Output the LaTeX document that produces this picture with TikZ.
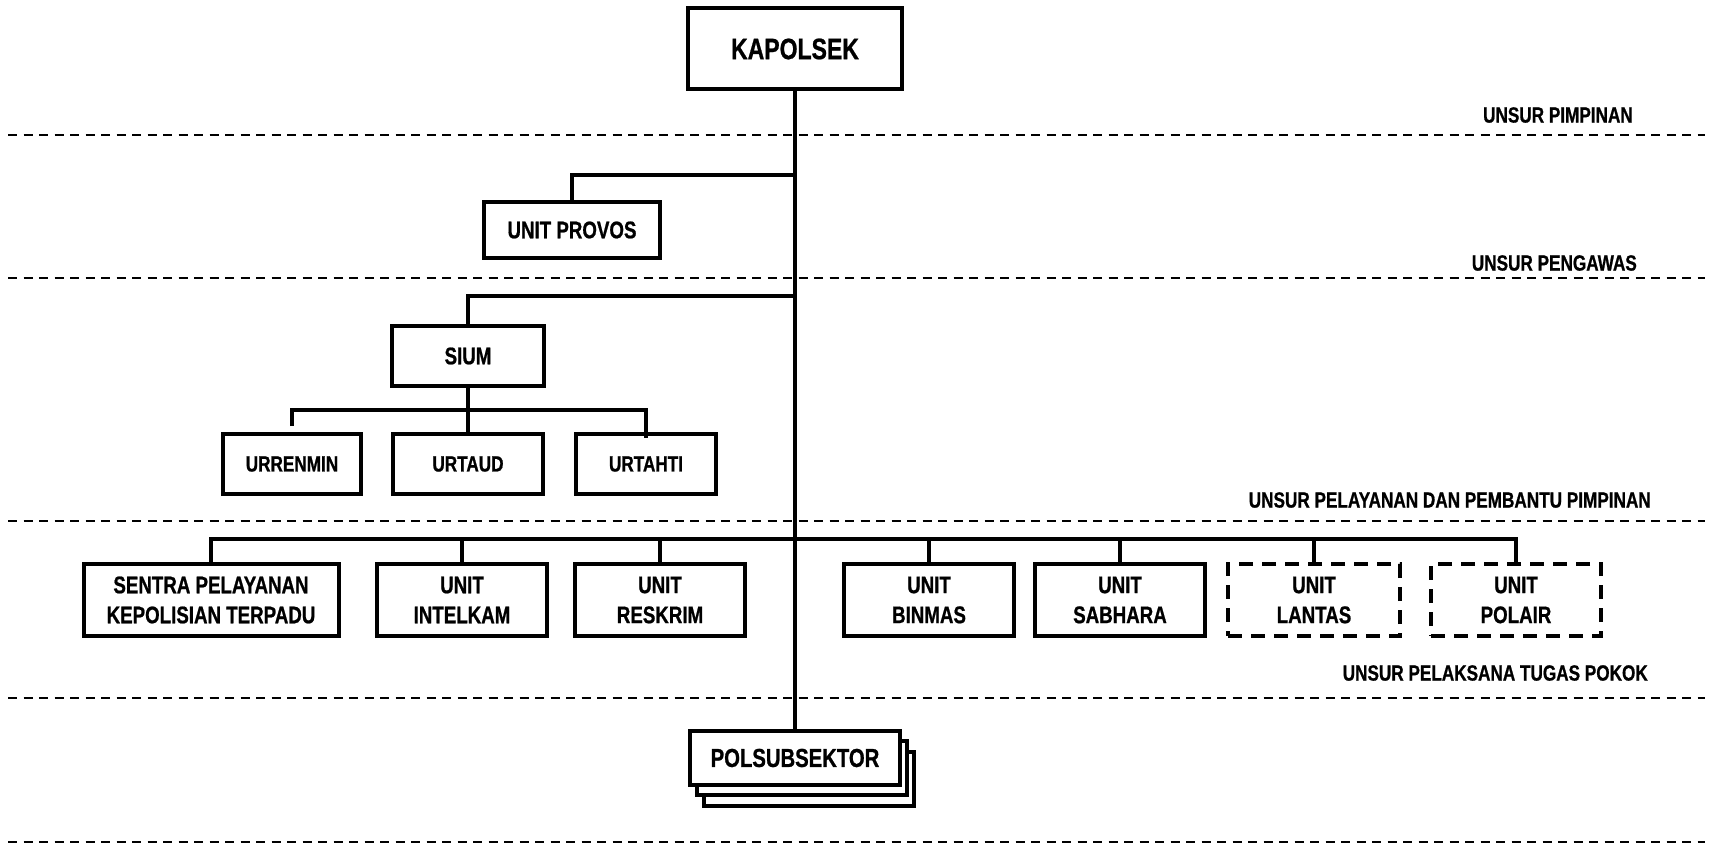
\documentclass[tikz,border=0pt]{standalone}
\usepackage{fontspec}
\setmainfont{Liberation Sans}[FakeStretch=0.78, BoldFeatures={FakeBold=0.8}]
\begin{document}
\begin{tikzpicture}[x=1pt,y=-1pt,
  box/.style={draw, line width=4pt, fill=white, font=\bfseries\fontsize{24}{30}\selectfont, align=center, inner sep=0pt},
  dbox/.style={box, dash pattern=on 14pt off 9pt},
  conn/.style={line width=3.5pt},
  sepline/.style={line width=2.2pt, dash pattern=on 9pt off 6.5pt},
  lab/.style={font=\bfseries\fontsize{22}{27}\selectfont, anchor=east, inner sep=0pt}]
\useasboundingbox (0,0) rectangle (1714,845);

% separator lines
\foreach \yy/\nm in {135/s1,278/s2,521/s3,698/s4,842/s5}{
  \coordinate (\nm a) at (8,\yy);
  \coordinate (\nm b) at (1705,\yy);
  \draw[sepline] (\nm a) -- (\nm b);
}
\node[lab] (l1) at (1633,115) {UNSUR PIMPINAN};
\node[lab] (l2) at (1637,263) {UNSUR PENGAWAS};
\node[lab] (l3) at (1651,500) {UNSUR PELAYANAN DAN PEMBANTU PIMPINAN};
\node[lab] (l4) at (1648,673) {UNSUR PELAKSANA TUGAS POKOK};

% junctions
\coordinate (jp) at (795,175);
\coordinate (js) at (795,296);
\coordinate (jb) at (795,539);
\coordinate (ju) at (468,410);

% top
\node[box, minimum width=214pt, minimum height=81pt, font=\bfseries\fontsize{29.5}{36}\selectfont] (kap) at (795,49) {KAPOLSEK};
\node[box, minimum width=176pt, minimum height=56pt] (provos) at (572,230) {UNIT PROVOS};
\node[box, minimum width=152pt, minimum height=60pt] (sium) at (468,356) {SIUM};
\node[box, minimum width=138pt, minimum height=60pt, font=\bfseries\fontsize{22}{27}\selectfont] (urrenmin) at (292,464) {URRENMIN};
\node[box, minimum width=150pt, minimum height=60pt, font=\bfseries\fontsize{22}{27}\selectfont] (urtaud) at (468,464) {URTAUD};
\node[box, minimum width=140pt, minimum height=60pt, font=\bfseries\fontsize{22}{27}\selectfont] (urtahti) at (646,464) {URTAHTI};

% bottom row
\node[box, minimum width=255pt, minimum height=72pt] (sentra) at (211,600) {SENTRA PELAYANAN\\KEPOLISIAN TERPADU};
\node[box, minimum width=170pt, minimum height=72pt] (intelkam) at (462,600) {UNIT\\INTELKAM};
\node[box, minimum width=170pt, minimum height=72pt] (reskrim) at (660,600) {UNIT\\RESKRIM};
\node[box, minimum width=170pt, minimum height=72pt] (binmas) at (929,600) {UNIT\\BINMAS};
\node[box, minimum width=170pt, minimum height=72pt] (sabhara) at (1120,600) {UNIT\\SABHARA};
\node[dbox, minimum width=172pt, minimum height=72pt] (lantas) at (1314,600) {UNIT\\LANTAS};
\node[dbox, minimum width=170pt, minimum height=72pt] (polair) at (1516,600) {UNIT\\POLAIR};

% polsubsektor stack
\node[box, minimum width=210pt, minimum height=54pt] (pols3) at (809,779) {};
\node[box, minimum width=210pt, minimum height=54pt] (pols2) at (802,768) {};
\node[box, minimum width=210pt, minimum height=54pt, font=\bfseries\fontsize{26}{30}\selectfont] (pols) at (795,758) {POLSUBSEKTOR};

% connectors
\draw[conn] (kap.south) -- (pols.north);
\draw[conn] (provos.north) |- (jp);
\draw[conn] (sium.north) |- (js);
\draw[conn] (sium.south) -- (urtaud.north);
\draw[conn, shorten <=6pt] (urrenmin.north) |- (ju) -| ([yshift=-6pt]urtahti.north);
\draw[conn] (sentra.north) |- (jb) -| (polair.north);
\draw[conn] (intelkam.north) -- (intelkam.north |- jb);
\draw[conn] (reskrim.north) -- (reskrim.north |- jb);
\draw[conn] (binmas.north) -- (binmas.north |- jb);
\draw[conn] (sabhara.north) -- (sabhara.north |- jb);
\draw[conn] (lantas.north) -- (lantas.north |- jb);
\end{tikzpicture}
\end{document}
